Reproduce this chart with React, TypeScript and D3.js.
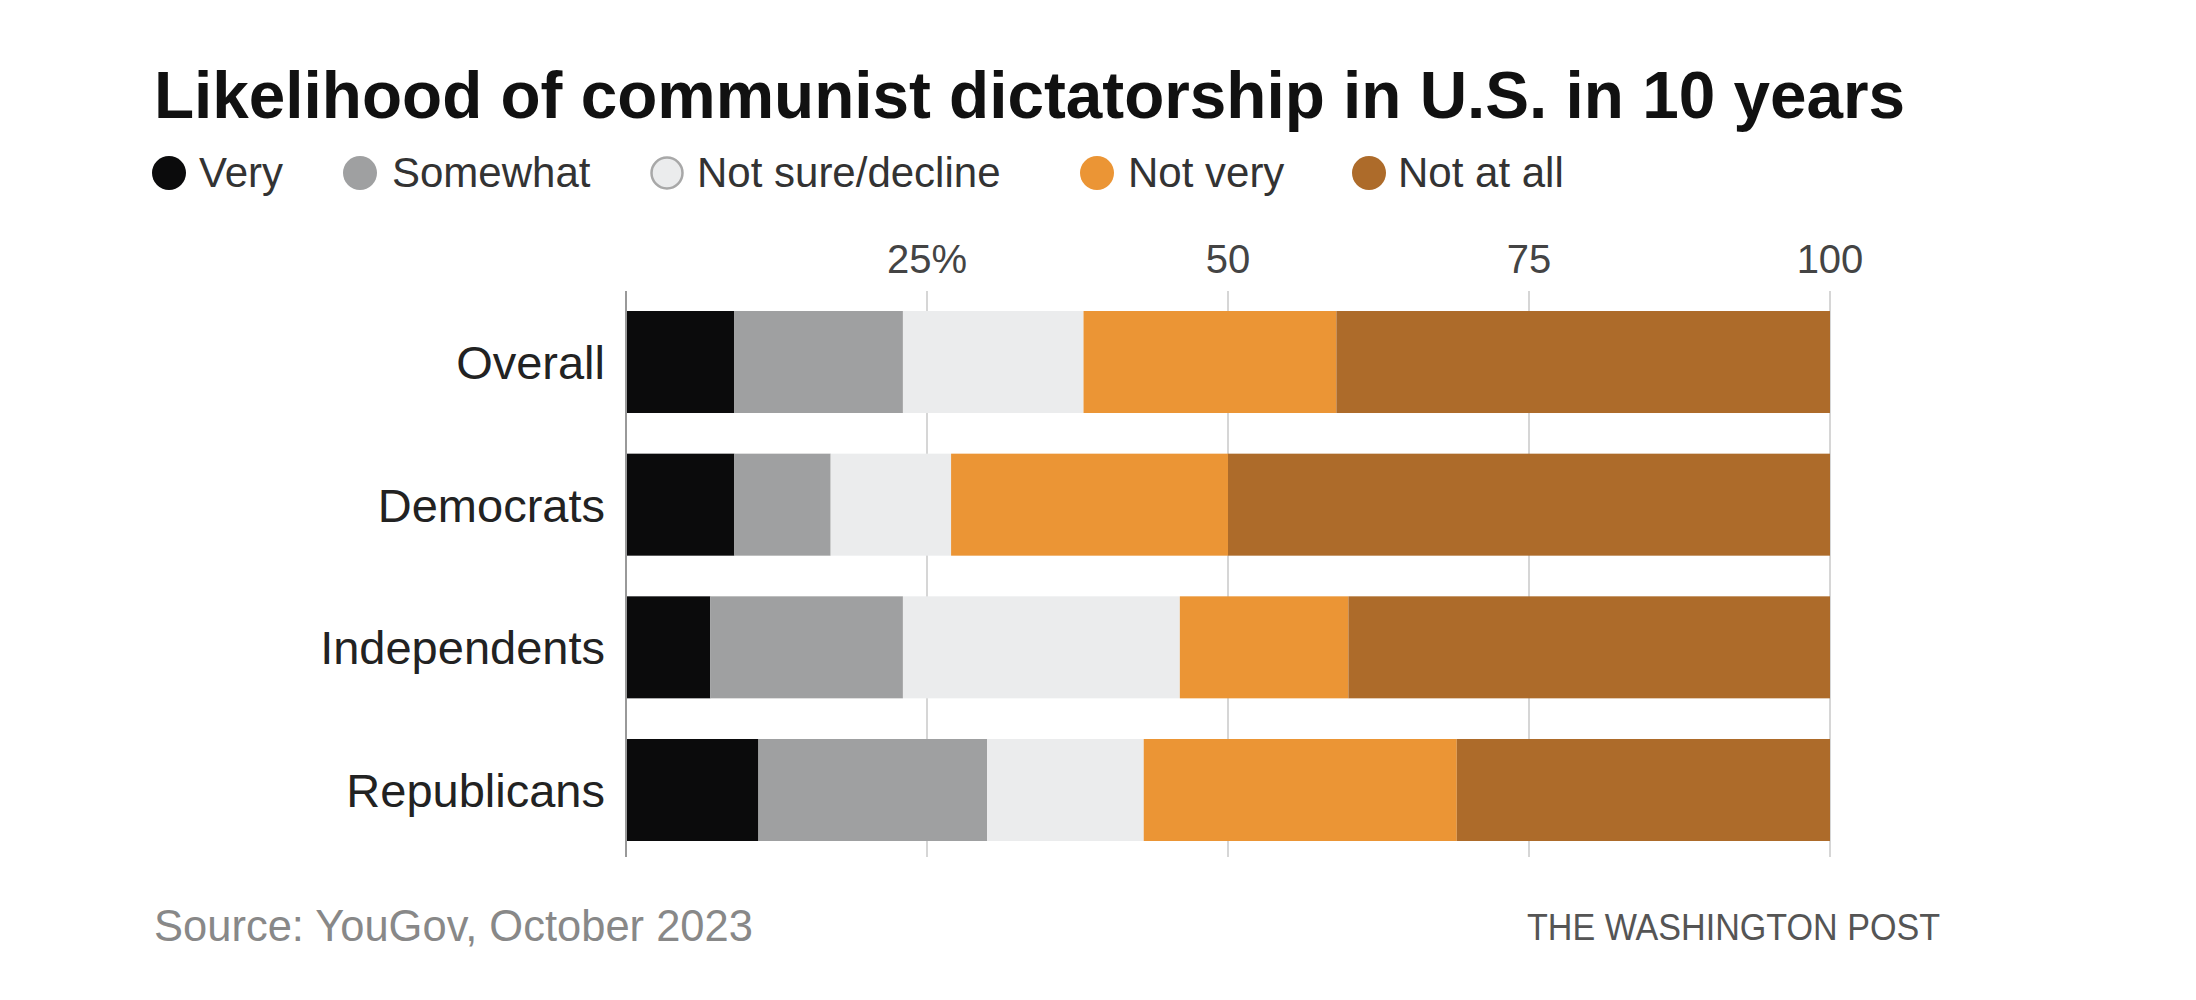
import React from "react";
import * as d3 from "d3";

const categories = ["Overall", "Democrats", "Independents", "Republicans"];
const seriesKeys = ["very", "somewhat", "notSure", "notVery", "notAtAll"];
const seriesLabels = ["Very", "Somewhat", "Not sure/decline", "Not very", "Not at all"];
const veryValues = [9, 9, 7, 11];
const somewhatValues = [14, 8, 16, 19];
const notSureValues = [15, 10, 23, 13];
const notVeryValues = [21, 23, 14, 26];
const notAtAllValues = [41, 50, 40, 31];
const tickValues = [25, 50, 75, 100];
const tickLabels = ["25%", "50", "75", "100"];

const colors = ["#0b0b0c", "#9fa0a1", "#ebeced", "#eb9535", "#ad6b2a"];
const legendCircleX = [169, 360, 667, 1097, 1369];
const legendTextX = [199, 392, 697, 1128, 1398];

export default function App() {
  const width = 2196;
  const height = 1000;
  const rows = categories.map((c, i) => ({
    category: c,
    very: veryValues[i],
    somewhat: somewhatValues[i],
    notSure: notSureValues[i],
    notVery: notVeryValues[i],
    notAtAll: notAtAllValues[i],
  }));
  const stacked = d3.stack<any>().keys(seriesKeys)(rows);
  const x = d3.scaleLinear().domain([0, 100]).range([626, 1830]);
  const y = d3
    .scaleBand<string>()
    .domain(categories)
    .range([311, 841])
    .paddingInner(0.285)
    .paddingOuter(0);
  const font = "'Liberation Sans', Arial, sans-serif";

  return (
    <svg
      width={width}
      height={height}
      style={{ position: "absolute", left: 0, top: 0, background: "#fff" }}
      fontFamily={font}
    >
      <rect x={0} y={0} width={width} height={height} fill="#fff" />
      <text x={154} y={118} fontSize={66} fontWeight="bold" fill="#111" textLength={1751} lengthAdjust="spacingAndGlyphs">
        Likelihood of communist dictatorship in U.S. in 10 years
      </text>
      {seriesLabels.map((lab, i) => (
        <g key={lab}>
          <circle
            cx={legendCircleX[i]}
            cy={173}
            r={i === 2 ? 15.5 : 17}
            fill={colors[i]}
            stroke={i === 2 ? "#a8a8a8" : "none"}
            strokeWidth={i === 2 ? 2.5 : 0}
          />
          <text x={legendTextX[i]} y={187} fontSize={42} fill="#333">
            {lab}
          </text>
        </g>
      ))}
      {tickValues.map((t, i) => (
        <g key={t}>
          <line x1={x(t)} x2={x(t)} y1={291} y2={857} stroke="#c8c8c8" strokeWidth={1.5} />
          <text x={x(t)} y={273} fontSize={40} fill="#444" textAnchor="middle">
            {tickLabels[i]}
          </text>
        </g>
      ))}
      {stacked.map((s, si) => (
        <g key={s.key} fill={colors[si]}>
          {s.map((d: any, di: number) => (
            <rect
              key={di}
              x={x(d[0])}
              y={y(categories[di])}
              width={x(d[1]) - x(d[0])}
              height={y.bandwidth()}
            />
          ))}
        </g>
      ))}
      <line x1={626} x2={626} y1={291} y2={857} stroke="#999" strokeWidth={2} />
      {categories.map((c) => (
        <text
          key={c}
          x={605}
          y={(y(c) as number) + y.bandwidth() / 2}
          dy="0.36em"
          fontSize={47}
          fill="#222"
          textAnchor="end"
        >
          {c}
        </text>
      ))}
      <text x={154} y={941} fontSize={43.5} fill="#888">
        Source: YouGov, October 2023
      </text>
      <text x={1527} y={940} fontSize={36} fill="#555" textLength={413} lengthAdjust="spacingAndGlyphs">
        THE WASHINGTON POST
      </text>
    </svg>
  );
}
